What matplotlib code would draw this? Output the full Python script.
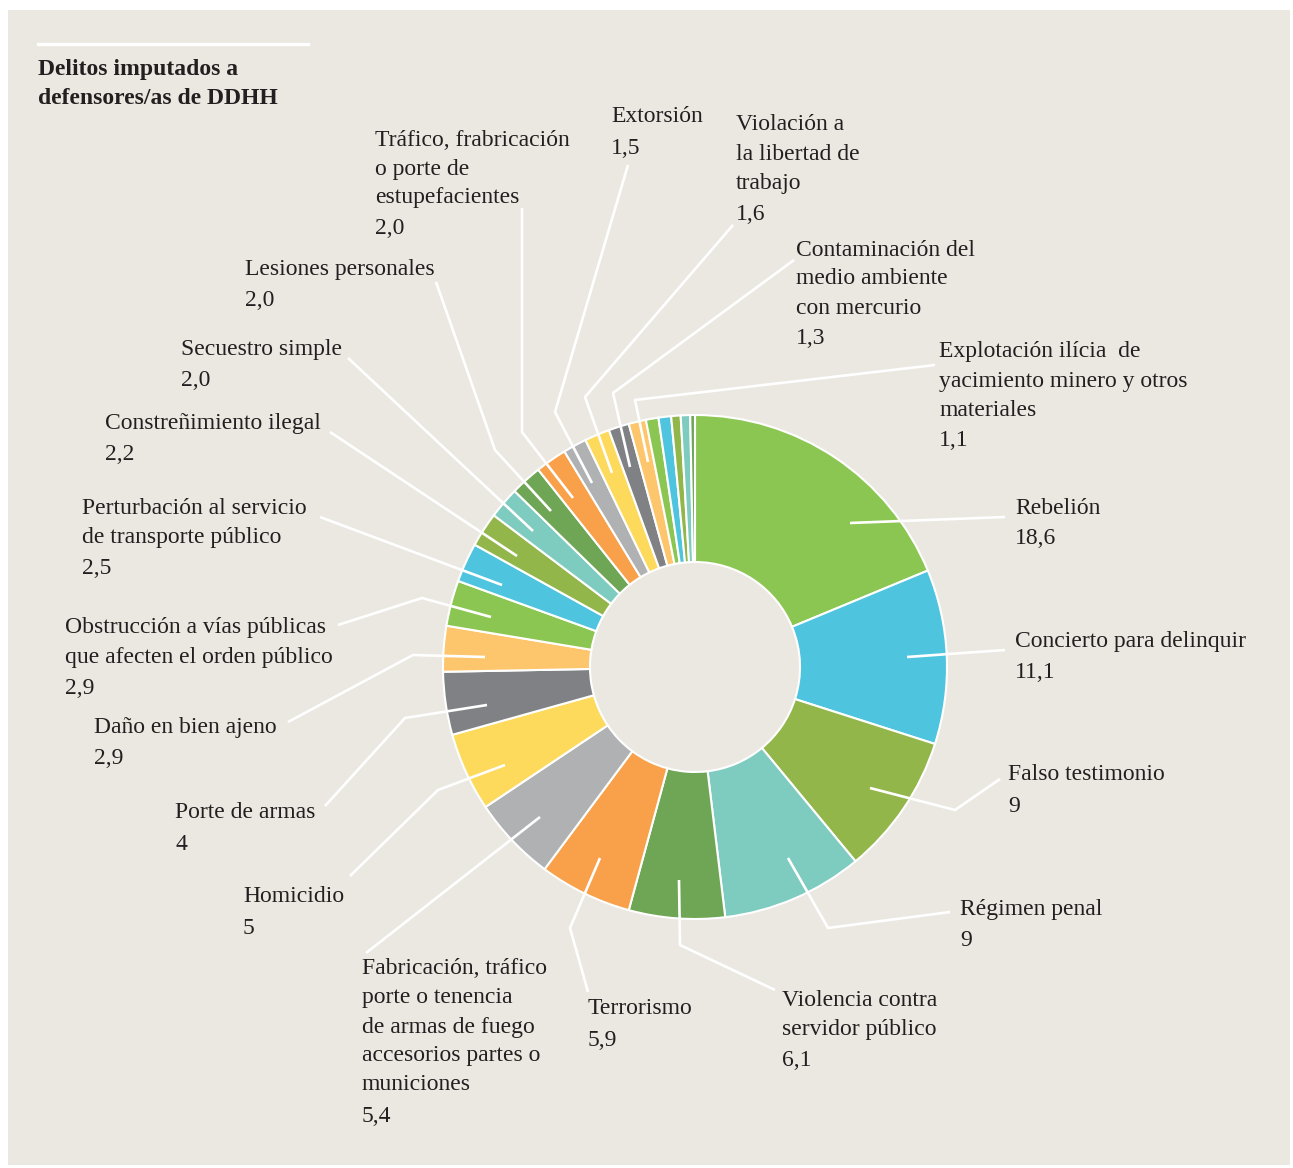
import matplotlib.pyplot as plt
from matplotlib.patches import Rectangle

# Delitos imputados a defensores/as de DDHH (porcentaje)
etiquetas = [
    'Rebelión', 'Concierto para delinquir', 'Falso testimonio', 'Régimen penal',
    'Violencia contra\nservidor público', 'Terrorismo',
    'Fabricación, tráfico\nporte o tenencia\nde armas de fuego\naccesorios partes o\nmuniciones',
    'Homicidio', 'Porte de armas', 'Daño en bien ajeno',
    'Obstrucción a vías públicas\nque afecten el orden público',
    'Perturbación al servicio\nde transporte público',
    'Constreñimiento ilegal', 'Secuestro simple', 'Lesiones personales',
    'Tráfico, frabricación\no porte de\nestupefacientes',
    'Extorsión', 'Violación a\nla libertad de\ntrabajo',
    'Contaminación del\nmedio ambiente\ncon mercurio',
    'Explotación ilícia  de\nyacimiento minero y otros\nmateriales',
    '', '', '', '', '',
]
valores = [18.6, 11.1, 9, 9, 6.1, 5.9, 5.4, 5, 4, 2.9, 2.9, 2.5, 2.2, 2.0, 2.0, 2.0,
           1.5, 1.6, 1.3, 1.1, 0.8, 0.8, 0.6, 0.6, 0.3]
textos_valor = ['18,6', '11,1', '9', '9', '6,1', '5,9', '5,4', '5', '4', '2,9', '2,9',
                '2,5', '2,2', '2,0', '2,0', '2,0', '1,5', '1,6', '1,3', '1,1',
                '', '', '', '', '']
paleta = ['#8cc652', '#4fc4de', '#93b64b', '#7ecbbf', '#6ea655',
          '#f8a04a', '#afb1b3', '#fdd95c', '#7f8184', '#fec66c']
colores = [paleta[i % 10] for i in range(len(valores))]

# posicion de las etiquetas (x, y de la primera linea) y recorrido de las guias
pos_texto = [(1015, 508), (1015, 642), (1008, 775), (960, 909), (782, 1000),
             (588, 1009), (362, 969), (243, 897), (175, 813), (94, 728),
             (65, 628), (82, 508), (105, 424), (181, 350), (245, 270),
             (375, 140), (611, 117), (736, 125), (796, 250), (939, 352)]
guias = [[(1005, 517), (850, 523)],
         [(1005, 650), (907, 657)],
         [(1000, 779), (955, 810), (870, 788)],
         [(950, 912), (828, 928), (788, 858)],
         [(775, 990), (680, 945), (679, 880)],
         [(588, 992), (570, 928), (600, 858)],
         [(366, 953), (540, 817)],
         [(350, 876), (438, 790), (505, 765)],
         [(325, 806), (405, 718), (487, 705)],
         [(288, 722), (413, 655), (485, 657)],
         [(338, 625), (422, 598), (491, 617)],
         [(320, 517), (502, 585)],
         [(330, 432), (517, 556)],
         [(348, 358), (533, 531)],
         [(436, 282), (495, 450), (551, 511)],
         [(522, 208), (522, 432), (573, 498)],
         [(628, 165), (555, 412), (592, 483)],
         [(733, 225), (585, 397), (612, 473)],
         [(794, 260), (613, 393), (630, 467)],
         [(935, 365), (635, 400), (648, 462)]]

W, H = 1293, 1168
fondo = '#ebe8e2'
tinta = '#231f20'
plt.rcParams['font.family'] = ['Liberation Serif', 'DejaVu Serif']


def P(x, y):
    return x, H - y


fig = plt.figure(figsize=(W / 100, H / 100), dpi=100, facecolor='white')
ax = fig.add_axes([0, 0, 1, 1])
ax.add_patch(Rectangle(P(8, 1165), 1282, 1155, facecolor=fondo, edgecolor='none', zorder=0))

cx, cy = P(695, 667)
wedges, _ = ax.pie(valores, colors=colores, startangle=90, counterclock=False,
                   radius=252, center=(cx, cy),
                   wedgeprops=dict(width=147, edgecolor='white', linewidth=1.5))
for w in wedges:
    w.set_zorder(2)

lh = 29
for i, (x, y) in enumerate(pos_texto):
    lineas = etiquetas[i].split('\n')
    for k, ln in enumerate(lineas):
        ax.text(*P(x, y + k * lh), ln, fontsize=17, color=tinta, va='center', ha='left')
    ax.text(*P(x, y + (len(lineas) - 1) * lh + 31), textos_valor[i], fontsize=17,
            color=tinta, va='center', ha='left')
    xs, ys = zip(*[P(px, py) for px, py in guias[i]])
    ax.plot(xs, ys, color='white', lw=1.9, zorder=3, solid_capstyle='butt')

# titulo
ax.plot(*zip(P(38, 44), P(308, 44)), color='white', lw=2.4)
ax.text(*P(38, 70), 'Delitos imputados a', fontsize=17, fontweight='bold', color=tinta, va='center')
ax.text(*P(38, 98), 'defensores/as de DDHH', fontsize=17, fontweight='bold', color=tinta, va='center')

ax.set_xlim(0, W)
ax.set_ylim(0, H)
ax.set_aspect('equal')
ax.axis('off')
fig.savefig('out.png', dpi=100, facecolor='white')
